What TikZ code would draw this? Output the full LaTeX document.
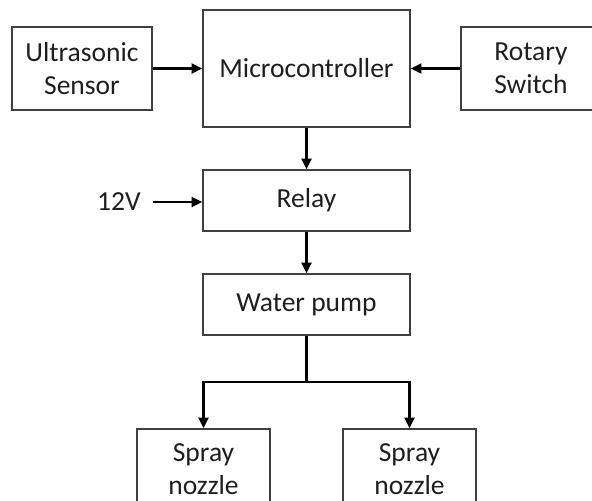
\documentclass[tikz,border=0pt]{standalone}
\usepackage{fontspec}
\setmainfont{Carlito}
\usepackage{tikz}
\usetikzlibrary{positioning,arrows.meta,calc}
\definecolor{edge}{HTML}{404040}
\definecolor{ink}{HTML}{1E1E1E}

\begin{document}
\begin{tikzpicture}[x=0.03cm, y=-0.03cm,
  blk/.style={rectangle, draw=edge, line width=1.2pt, align=center, text=ink,
    font=\fontsize{23.5}{28}\selectfont, inner sep=0pt},
  flow/.style={-{Triangle[length=3.2mm, width=3mm]}, line width=1.8pt, black}]
\useasboundingbox (0,0) rectangle (592,500);
\clip (0,0) rectangle (592,500);
% top row
\node[blk, minimum width=4.2cm, minimum height=2.49cm] (sensor) at (82,68.5) {Ultrasonic\\Sensor};
\node[blk, minimum width=6.21cm, minimum height=3.51cm] (mcu) at (306.5,68.5) {Microcontroller};
\node[blk, minimum width=4.2cm, minimum height=2.49cm] (rotary) at (531,68.5) {Rotary\\Switch};
% middle column
\node[blk, minimum width=6.21cm, minimum height=1.83cm] (relay) at (306.5,200.5) {Relay};
\node[blk, minimum width=6.21cm, minimum height=1.83cm] (pump) at (306.5,304.5) {Water pump};
\node[text=ink, font=\fontsize{23.5}{28}\selectfont, inner xsep=0.36cm, inner ysep=0pt] (supply) at (119,202) {12V};
% nozzles
\node[blk, minimum width=3.99cm, minimum height=2.4cm] (nozzleL) at (203.5,469) {Spray\\nozzle};
\node[blk, minimum width=3.99cm, minimum height=2.4cm] (nozzleR) at (409.5,469) {Spray\\nozzle};
\coordinate (split) at (306.5,382);
% connectors
\draw[flow] (sensor.east) -- (sensor.east -| mcu.west);
\draw[flow] (rotary.west) -- (rotary.west -| mcu.east);
\draw[flow] (mcu.south) -- (relay.north);
\draw[flow] (supply.east) -- (supply.east -| relay.west);
\draw[flow] (relay.south) -- (pump.north);
\draw[line width=1.8pt] (pump.south) -- (split);
\draw[flow] (split) -| (nozzleL.north);
\draw[flow] (split) -| (nozzleR.north);
\end{tikzpicture}
\end{document}
